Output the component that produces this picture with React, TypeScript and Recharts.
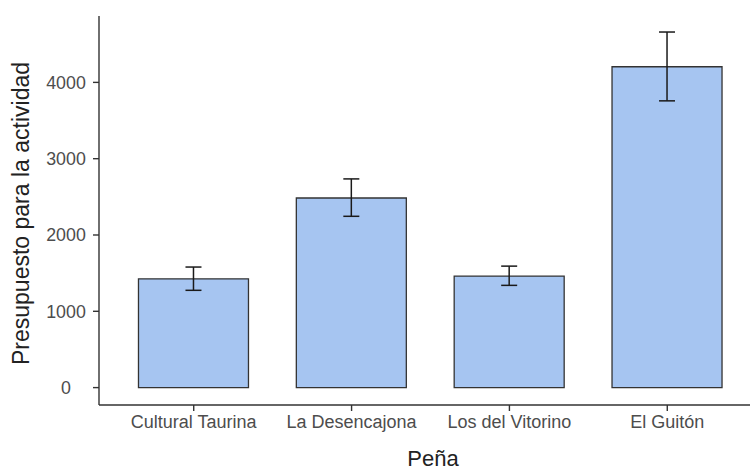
import { BarChart, Bar, XAxis, YAxis, ErrorBar } from "recharts";

const penas = ["Cultural Taurina", "La Desencajona", "Los del Vitorino", "El Guitón"];
const presupuesto = [1425, 2485, 1462, 4205];
const limiteInferior = [1275, 2245, 1340, 3758];
const limiteSuperior = [1580, 2735, 1592, 4660];
const yTicks = [0, 1000, 2000, 3000, 4000];

const data = penas.map((pena, i) => ({
  pena,
  presupuesto: presupuesto[i],
  error: [presupuesto[i] - limiteInferior[i], limiteSuperior[i] - presupuesto[i]],
}));

const FONT = "'Liberation Sans', Arial, sans-serif";
const AXIS = "#333333";
const TICK_TEXT = "#4d4d4d";

// y labels in the reference are centred on their column, not right-aligned
function YTick(props: any) {
  const { x, y, payload } = props;
  return (
    <text
      x={x - 25}
      y={y}
      dy="0.36em"
      textAnchor="middle"
      fontSize={17.8}
      fontFamily={FONT}
      fill={TICK_TEXT}
    >
      {payload.value}
    </text>
  );
}

export default function App() {
  return (
    <div
      style={{
        position: "absolute",
        left: 0,
        top: 0,
        width: 750,
        height: 470,
        overflow: "hidden",
        background: "#fff",
      }}
    >
      <BarChart
        width={780}
        height={470}
        data={data}
        margin={{ top: 16, right: 18, left: 0, bottom: 25 }}
        barCategoryGap="15%"
      >
        <XAxis
          dataKey="pena"
          height={40}
          padding={{ left: 15.8, right: 15.8 }}
          tickSize={6}
          tickMargin={4}
          axisLine={{ stroke: AXIS, strokeWidth: 1.4 }}
          tickLine={{ stroke: AXIS, strokeWidth: 1.4 }}
          tick={{ fontSize: 18, fontFamily: FONT, fill: TICK_TEXT }}
          label={{
            content: ({ viewBox }: any) => (
              <text
                x={viewBox.x + 334}
                y={viewBox.y + 61}
                textAnchor="middle"
                fontSize={22}
                fontFamily={FONT}
                fill="#222"
              >
                Peña
              </text>
            ),
          }}
        />
        <YAxis
          width={99}
          type="number"
          domain={[-228, 4870]}
          ticks={yTicks}
          interval={0}
          tickSize={6}
          tickMargin={2}
          axisLine={{ stroke: AXIS, strokeWidth: 1.4 }}
          tickLine={{ stroke: AXIS, strokeWidth: 1.4 }}
          tick={<YTick />}
          label={{
            content: ({ viewBox }: any) => {
              const cx = 29;
              const cy = viewBox.y + viewBox.height / 2 + 3;
              return (
                <text
                  x={cx}
                  y={cy}
                  transform={`rotate(-90 ${cx} ${cy})`}
                  textAnchor="middle"
                  fontSize={23}
                  fontFamily={FONT}
                  fill="#222"
                >
                  Presupuesto para la actividad
                </text>
              );
            },
          }}
        />
        <Bar
          dataKey="presupuesto"
          fill="#a6c5f1"
          stroke="#333333"
          strokeWidth={1.3}
          isAnimationActive={false}
        >
          <ErrorBar
            dataKey="error"
            width={8}
            stroke="#1a1a1a"
            strokeWidth={1.5}
            isAnimationActive={false}
          />
        </Bar>
      </BarChart>
    </div>
  );
}
